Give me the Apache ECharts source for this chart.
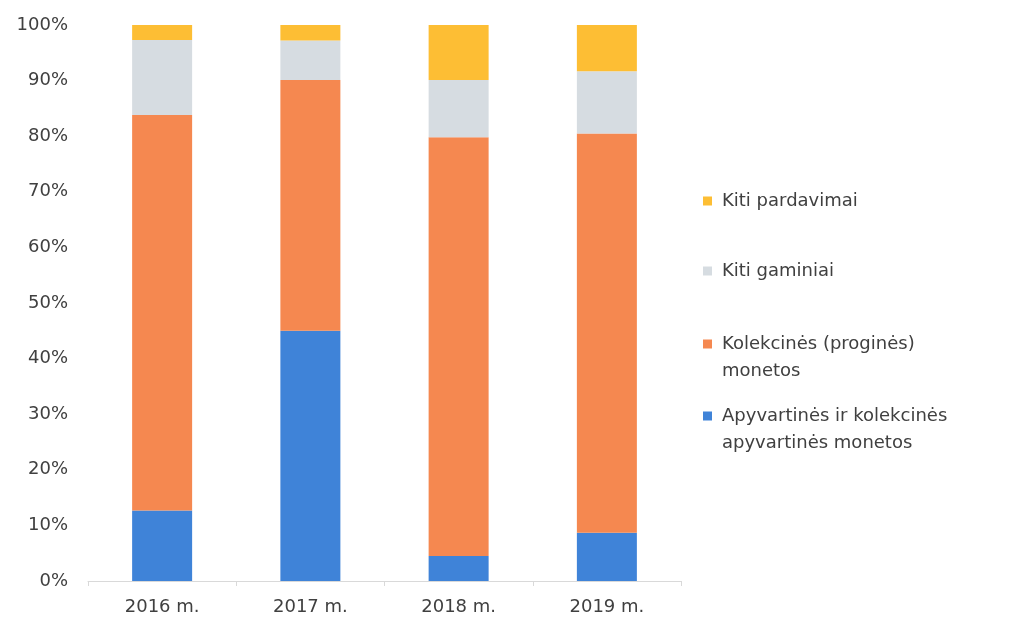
<!DOCTYPE html>
<html>
<head>
<meta charset="utf-8">
<script src="https://cdn.jsdelivr.net/npm/echarts@6/dist/echarts.min.js"></script>
<style>
  html, body { margin: 0; padding: 0; background: #fff; }
  #chart { width: 1024px; height: 622px; }
</style>
</head>
<body>
<div id="chart"></div>
<script>
// data (percent of yearly sales)
const years = ['2016 m.', '2017 m.', '2018 m.', '2019 m.'];
const seriesNames = [
  'Apyvartinės ir kolekcinės apyvartinės monetos',
  'Kolekcinės (proginės) monetos',
  'Kiti gaminiai',
  'Kiti pardavimai'
];
// empty first line keeps the icon level with the first text line
const legendText = [
  ' \nApyvartinės ir kolekcinės\napyvartinės monetos',
  ' \nKolekcinės (proginės)\nmonetos',
  'Kiti gaminiai',
  'Kiti pardavimai'
];
const circulation = [12.7, 45.0, 4.5, 8.7];
const collector = [71.1, 45.1, 75.3, 71.8];
const otherGoods = [13.5, 7.1, 10.3, 11.2];
const otherSales = [2.7, 2.8, 9.9, 8.3];

const colors = ['#3f83d8', '#f58850', '#d6dce1', '#fdbe34'];
const values = [circulation, collector, otherGoods, otherSales];

const chart = echarts.init(document.getElementById('chart'));

const font = 'DejaVu Sans';
const textColor = '#404040';

// one legend per item so each can sit where the picture has it
const legendTops = [375.5, 303.5, 257.5, 187.5];
const legends = seriesNames.map((name, i) => ({
  orient: 'vertical',
  left: 703,
  top: legendTops[i],
  padding: 0,
  itemWidth: 9,
  itemHeight: 9,
  icon: 'rect',
  selectedMode: false,
  data: [name],
  formatter: () => legendText[i],
  textStyle: {
    fontFamily: font,
    fontSize: 18,
    color: textColor,
    lineHeight: 27,
    padding: [0, 0, 0, 5]
  }
}));

const option = {
  animation: false,
  color: colors,
  grid: { left: 88, right: 343, top: 25, bottom: 41, containLabel: false },
  legend: legends,
  xAxis: {
    type: 'category',
    data: years,
    axisLine: { lineStyle: { color: '#d9d9d9', width: 1 } },
    axisTick: { show: true, length: 5, lineStyle: { color: '#d9d9d9' } },
    axisLabel: { fontFamily: font, fontSize: 18, color: textColor, margin: 17 }
  },
  yAxis: {
    type: 'value',
    min: 0,
    max: 100,
    interval: 10,
    axisLine: { show: false },
    axisTick: { show: false },
    splitLine: { show: false },
    axisLabel: {
      formatter: '{value}%',
      fontFamily: font,
      fontSize: 18,
      color: textColor,
      margin: 20
    }
  },
  series: seriesNames.map((name, i) => ({
    name: name,
    type: 'bar',
    stack: 'total',
    barWidth: 60,
    data: values[i],
    itemStyle: { color: colors[i] }
  }))
};

chart.setOption(option);
</script>
</body>
</html>
